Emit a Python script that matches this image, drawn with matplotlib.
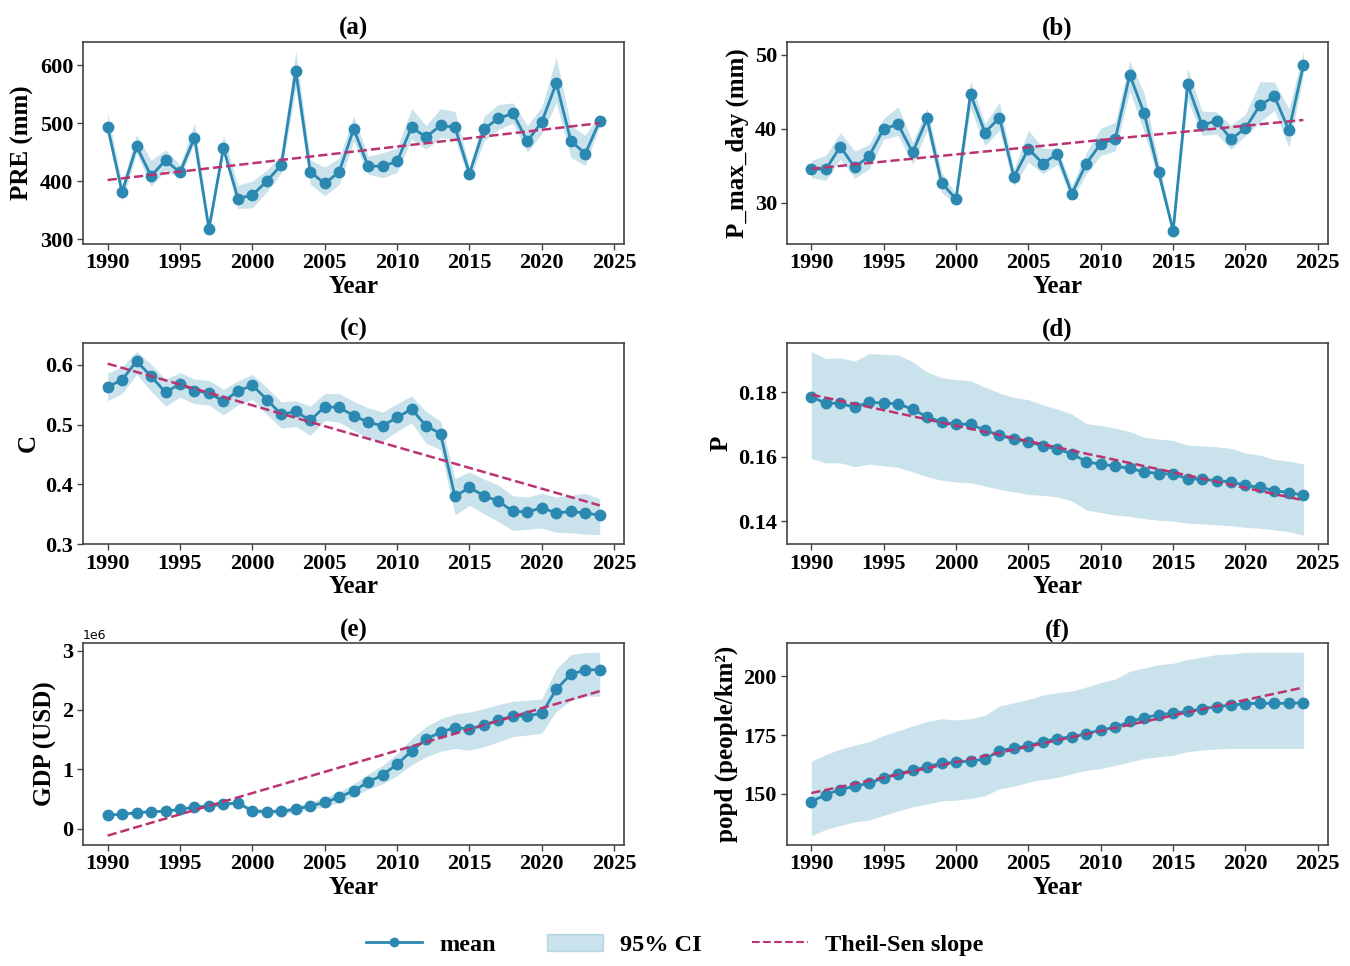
import numpy as np
import matplotlib.pyplot as plt
from matplotlib.lines import Line2D
from matplotlib.patches import Patch

plt.rcParams['font.family'] = ['Liberation Serif', 'DejaVu Serif']
plt.rcParams['font.weight'] = 'bold'
plt.rcParams['axes.labelweight'] = 'bold'
plt.rcParams['axes.titleweight'] = 'bold'

years = np.arange(1990, 2025)

# (a) PRE (mm)
pre_mean = [493, 381, 460, 409, 436, 415, 475, 318, 457, 370, 376, 400, 428, 590,
            416, 396, 416, 490, 426, 426, 434, 493, 476, 496, 493, 413, 490, 508,
            517, 469, 502, 569, 470, 447, 504]
pre_hi = [518, 395, 480, 436, 454, 428, 500, 327, 479, 393, 400, 419, 445, 624,
          437, 424, 440, 512, 443, 449, 457, 525, 496, 525, 520, 424, 512, 532,
          535, 496, 528, 613, 496, 479, 516]
pre_lo = [488, 366, 448, 391, 419, 405, 466, 308, 448, 353, 354, 382, 414, 561,
          395, 375, 394, 469, 412, 406, 415, 472, 455, 475, 473, 400, 469, 489,
          500, 450, 482, 535, 441, 427, 495]
pre_trend = [402, 500]

# (b) P_max_day (mm)
pmax_mean = [34.6, 34.5, 37.6, 34.8, 36.3, 40.0, 40.6, 36.8, 41.4, 32.7, 30.5, 44.7,
             39.5, 41.5, 33.5, 37.3, 35.3, 36.6, 31.2, 35.3, 38.0, 38.6, 47.3, 42.1,
             34.1, 26.2, 46.0, 40.5, 41.1, 38.6, 40.1, 43.2, 44.4, 39.8, 48.6]
pmax_hi = [35.7, 36.4, 39.5, 37.0, 37.9, 41.4, 43.0, 38.2, 42.8, 34.1, 31.2, 46.5,
           40.7, 43.6, 34.5, 39.8, 37.4, 37.3, 32.3, 36.8, 40.1, 40.9, 49.2, 44.8,
           35.5, 26.8, 48.2, 42.4, 42.3, 40.5, 42.0, 46.4, 46.3, 42.7, 50.5]
pmax_lo = [33.4, 33.0, 35.9, 33.3, 34.6, 38.6, 39.1, 35.2, 39.8, 31.4, 29.8, 42.8,
           37.7, 39.8, 32.3, 35.5, 33.9, 35.2, 30.5, 33.9, 36.4, 37.0, 45.1, 39.5,
           33.0, 25.7, 43.9, 39.1, 39.3, 37.2, 39.1, 40.9, 42.5, 37.5, 47.3]
pmax_trend = [34.6, 41.2]

# (c) C
c_mean = [0.563, 0.575, 0.606, 0.581, 0.554, 0.568, 0.557, 0.553, 0.539, 0.556,
          0.566, 0.542, 0.517, 0.522, 0.507, 0.530, 0.529, 0.515, 0.504, 0.498,
          0.512, 0.526, 0.498, 0.485, 0.380, 0.395, 0.381, 0.372, 0.355, 0.354,
          0.361, 0.352, 0.355, 0.352, 0.349]
c_hi = [0.586, 0.597, 0.622, 0.601, 0.576, 0.587, 0.576, 0.574, 0.559, 0.573,
        0.584, 0.562, 0.538, 0.540, 0.531, 0.552, 0.552, 0.539, 0.528, 0.521,
        0.535, 0.548, 0.522, 0.506, 0.410, 0.421, 0.409, 0.399, 0.381, 0.379,
        0.385, 0.379, 0.382, 0.385, 0.376]
c_lo = [0.540, 0.552, 0.584, 0.556, 0.531, 0.546, 0.535, 0.533, 0.516, 0.533,
        0.542, 0.517, 0.494, 0.497, 0.482, 0.507, 0.504, 0.490, 0.478, 0.472,
        0.489, 0.503, 0.469, 0.458, 0.349, 0.365, 0.351, 0.338, 0.323, 0.325,
        0.327, 0.320, 0.319, 0.317, 0.316]
c_trend = [0.602, 0.365]

# (d) P
p_mean = [0.1786, 0.1766, 0.1766, 0.1753, 0.1770, 0.1766, 0.1765, 0.1747, 0.1724,
          0.1708, 0.1701, 0.1701, 0.1682, 0.1667, 0.1654, 0.1647, 0.1633, 0.1623,
          0.1610, 0.1584, 0.1577, 0.1571, 0.1564, 0.1553, 0.1548, 0.1546, 0.1532,
          0.1530, 0.1526, 0.1522, 0.1511, 0.1505, 0.1495, 0.1489, 0.1481]
p_hi = [0.1926, 0.1905, 0.1907, 0.1897, 0.1920, 0.1918, 0.1916, 0.1895, 0.1863,
        0.1845, 0.1840, 0.1836, 0.1816, 0.1798, 0.1784, 0.1777, 0.1761, 0.1748,
        0.1732, 0.1703, 0.1697, 0.1689, 0.1678, 0.1661, 0.1655, 0.1651, 0.1636,
        0.1634, 0.1631, 0.1626, 0.1612, 0.1605, 0.1592, 0.1586, 0.1578]
p_lo = [0.1595, 0.1581, 0.1581, 0.1569, 0.1577, 0.1572, 0.1567, 0.1553, 0.1538,
        0.1527, 0.1522, 0.1519, 0.1509, 0.1499, 0.1491, 0.1483, 0.1480, 0.1475,
        0.1463, 0.1435, 0.1427, 0.1419, 0.1415, 0.1408, 0.1403, 0.1400, 0.1394,
        0.1392, 0.1389, 0.1386, 0.1381, 0.1378, 0.1373, 0.1368, 0.1357]
p_trend = [0.1793, 0.1465]

# (e) GDP (USD), in 1e6
gdp_mean = [0.228, 0.240, 0.268, 0.285, 0.291, 0.325, 0.359, 0.382, 0.410, 0.433,
            0.297, 0.285, 0.291, 0.325, 0.382, 0.439, 0.530, 0.638, 0.780, 0.906,
            1.082, 1.310, 1.509, 1.623, 1.702, 1.680, 1.742, 1.828, 1.896, 1.902,
            1.941, 2.345, 2.602, 2.670, 2.681]
gdp_hi = [0.245, 0.258, 0.287, 0.305, 0.312, 0.347, 0.382, 0.406, 0.436, 0.462,
          0.336, 0.325, 0.336, 0.380, 0.450, 0.524, 0.621, 0.752, 0.922, 1.065,
          1.264, 1.520, 1.719, 1.850, 1.930, 1.964, 2.021, 2.089, 2.146, 2.163,
          2.186, 2.687, 2.932, 2.966, 2.972]
gdp_lo = [0.211, 0.222, 0.249, 0.265, 0.270, 0.303, 0.336, 0.358, 0.384, 0.404,
          0.257, 0.240, 0.245, 0.270, 0.325, 0.365, 0.439, 0.541, 0.667, 0.752,
          0.894, 1.076, 1.207, 1.304, 1.350, 1.321, 1.378, 1.463, 1.549, 1.577,
          1.606, 1.976, 2.158, 2.232, 2.232]
gdp_trend = [-0.119, 2.317]

# (f) popd (people/km²)
popd_mean = [146.8, 149.7, 151.9, 153.3, 154.6, 156.8, 158.6, 160.1, 161.6, 163.2,
             163.4, 164.1, 164.8, 168.4, 169.5, 170.5, 172.3, 173.6, 174.3, 175.6,
             177.3, 178.3, 180.9, 182.3, 183.8, 184.3, 185.2, 186.2, 187.2, 187.8,
             188.4, 188.6, 188.5, 188.6, 188.8]
popd_hi = [163.9, 166.8, 169.1, 170.8, 172.3, 174.9, 176.9, 178.9, 180.9, 182.0,
           181.5, 182.0, 183.5, 187.4, 188.8, 190.2, 192.1, 193.1, 193.8, 195.5,
           197.4, 198.9, 202.2, 203.6, 205.0, 205.6, 207.2, 208.2, 209.3, 209.6,
           210.2, 210.3, 210.3, 210.3, 210.3]
popd_lo = [132.3, 134.9, 136.6, 138.1, 138.9, 140.9, 142.8, 144.5, 145.7, 147.1,
           147.4, 148.1, 149.3, 152.2, 153.3, 155.0, 156.2, 157.0, 158.6, 160.1,
           160.8, 162.2, 163.6, 165.1, 165.8, 166.5, 168.0, 168.7, 169.1, 169.4,
           169.4, 169.4, 169.4, 169.4, 169.4]
popd_trend = [150.4, 195.3]

panels = [
    ('(a)', 'PRE (mm)', pre_mean, pre_lo, pre_hi, pre_trend, 1),
    ('(b)', 'P_max_day (mm)', pmax_mean, pmax_lo, pmax_hi, pmax_trend, 1),
    ('(c)', 'C', c_mean, c_lo, c_hi, c_trend, 1),
    ('(d)', 'P', p_mean, p_lo, p_hi, p_trend, 1),
    ('(e)', 'GDP (USD)', gdp_mean, gdp_lo, gdp_hi, gdp_trend, 1e6),
    ('(f)', 'popd (people/km²)', popd_mean, popd_lo, popd_hi, popd_trend, 1),
]

line_c = '#2b88b0'
band_c = '#2b8cb3'
trend_c = '#bb3370'

fig, axes = plt.subplots(3, 2, figsize=(13.5, 9.66), dpi=100)
plt.subplots_adjust(left=0.0615, right=0.9837, top=0.9565, bottom=0.1255,
                    wspace=0.3, hspace=0.49)

for ax, (title, ylab, m, lo, hi, tr, scale) in zip(axes.flat, panels):
    m = np.array(m) * scale
    lo = np.array(lo) * scale
    hi = np.array(hi) * scale
    tr = np.array(tr) * scale
    ax.fill_between(years, lo, hi, color=band_c, alpha=0.25, linewidth=0)
    ax.plot(years, m, color=line_c, marker='o', markersize=7.5, linewidth=2)
    ax.plot([years[0], years[-1]], tr, color=trend_c, linestyle='--', linewidth=1.8)
    ax.set_title(title, fontsize=18, pad=5)
    ax.set_xlabel('Year', fontsize=18, labelpad=1)
    ax.set_ylabel(ylab, fontsize=18)
    ax.set_xticks(np.arange(1990, 2026, 5))
    ax.tick_params(labelsize=16, width=1, length=4, color='#444444', pad=3)
    for s in ax.spines.values():
        s.set_color('#444444')
        s.set_linewidth(1.2)

axes[0, 0].set_yticks([300, 400, 500, 600])
axes[0, 1].set_yticks([30, 40, 50])
axes[1, 0].set_yticks([0.3, 0.4, 0.5, 0.6])
axes[1, 1].set_yticks([0.14, 0.16, 0.18])
axes[2, 0].set_yticks([0, 1e6, 2e6, 3e6])
axes[2, 1].set_yticks([150, 175, 200])
off = axes[2, 0].yaxis.get_offset_text()
off.set_fontsize(9)
off.set_fontweight('normal')
off.set_family('DejaVu Sans')

handles = [
    Line2D([], [], color=line_c, marker='o', markersize=6, linewidth=2),
    Patch(facecolor=band_c, alpha=0.25, edgecolor=band_c),
    Line2D([], [], color=trend_c, linestyle='--', linewidth=1.5),
]
fig.legend(handles, ['mean', '95% CI', 'Theil-Sen slope'], loc='lower center',
           ncol=3, frameon=False, fontsize=17.5, bbox_to_anchor=(0.5, -0.012),
           columnspacing=2.1, handlelength=2.3, handletextpad=0.7)

fig.savefig('out.png', dpi=100)
